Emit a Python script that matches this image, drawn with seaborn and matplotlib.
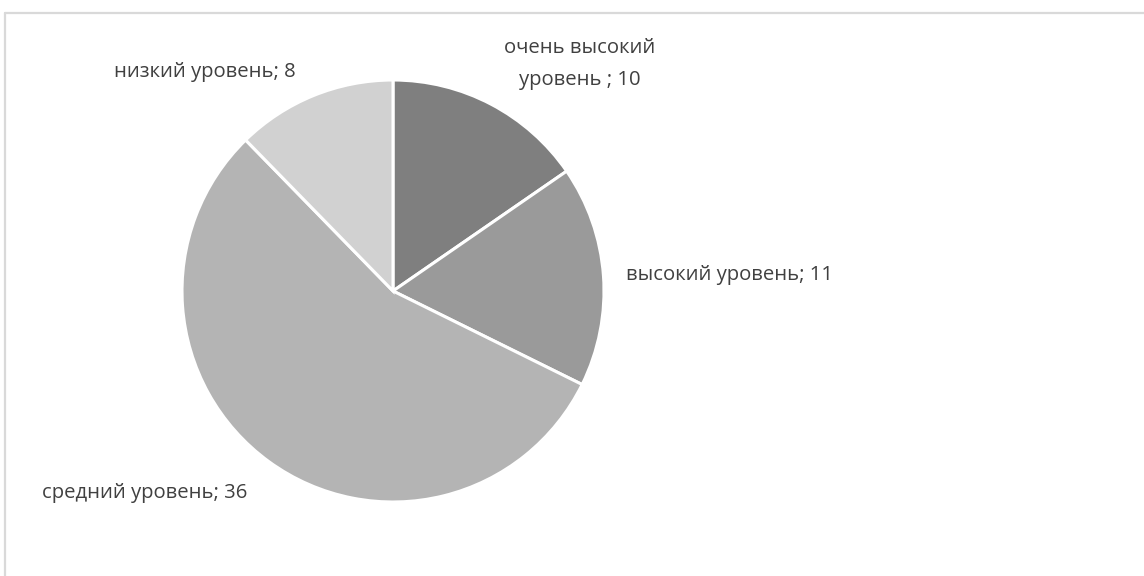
import matplotlib
matplotlib.use("Agg")
import matplotlib.pyplot as plt
from matplotlib.lines import Line2D
import seaborn as sns

sns.set_theme(style="white")
plt.rcParams['font.family'] = ['Open Sans', 'DejaVu Sans']

categories = ["очень высокий\nуровень ; 10", "высокий уровень; 11",
              "средний уровень; 36", "низкий уровень; 8"]
values = [10, 11, 36, 8]
colors = ["#7f7f7f", "#9a9a9a", "#b4b4b4", "#d1d1d1"]

W, H = 1144, 576
fig = plt.figure(figsize=(W / 100, H / 100), dpi=100)
fig.patch.set_facecolor("white")

# chart-area frame: top and left edges
fig.add_artist(Line2D([5 / W, 1], [1 - 13 / H, 1 - 13 / H], color="#d9d9d9", lw=1.6,
                      transform=fig.transFigure))
fig.add_artist(Line2D([5 / W, 5 / W], [0, 1 - 13 / H], color="#d9d9d9", lw=1.6,
                      transform=fig.transFigure))

cx, cy, r = 393, 291, 211
ax = fig.add_axes([(cx - r) / W, 1 - (cy + r) / H, 2 * r / W, 2 * r / H])
ax.pie(values, colors=colors, startangle=90, counterclock=False, radius=1,
       wedgeprops=dict(edgecolor="white", linewidth=2.2))
ax.set_xlim(-1, 1)
ax.set_ylim(-1, 1)
ax.set_aspect("equal")
ax.axis("off")

# label anchors (pixel positions of each label's centre)
label_pos = [(580, 64), (730, 275), (145, 493), (205, 72)]
for text, (px, py) in zip(categories, label_pos):
    fig.text(px / W, 1 - py / H, text, ha="center", va="center",
             fontsize=14.6, color="#404040", linespacing=1.75)

fig.savefig("out.png", dpi=100, facecolor="white")
